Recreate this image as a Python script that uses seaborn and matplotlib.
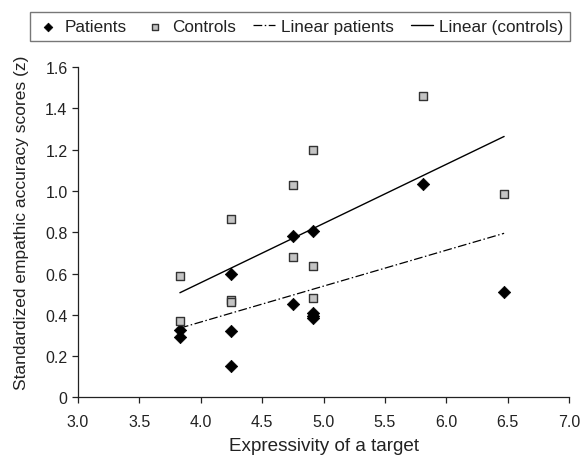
import numpy as np
import pandas as pd
import seaborn as sns
import matplotlib.pyplot as plt

# values
patients_x = [3.83, 3.83, 4.25, 4.25, 4.25, 4.75, 4.75, 4.91, 4.91, 4.91, 4.91, 5.81, 6.47]
patients_y = [0.325, 0.29, 0.60, 0.32, 0.15, 0.78, 0.45, 0.805, 0.41, 0.395, 0.385, 1.035, 0.51]
controls_x = [3.83, 3.83, 4.25, 4.25, 4.25, 4.75, 4.75, 4.91, 4.91, 4.91, 5.81, 6.47]
controls_y = [0.59, 0.37, 0.865, 0.47, 0.46, 1.03, 0.68, 1.20, 0.635, 0.48, 1.46, 0.985]

df_pat = pd.DataFrame({'x': patients_x, 'y': patients_y})
df_con = pd.DataFrame({'x': controls_x, 'y': controls_y})

sns.set_style('ticks')
plt.rcParams['font.family'] = ['Liberation Sans', 'DejaVu Sans']

fig = plt.figure(figsize=(5.82, 4.60), dpi=100)
ax = fig.add_axes([0.134, 0.134, 0.844, 0.718])

# regression lines over the data range
sns.regplot(data=df_pat, x='x', y='y', ax=ax, scatter=False, ci=None, truncate=True,
            line_kws={'color': 'black', 'lw': 0.9, 'dashes': (7, 2, 1.2, 2)})
line_pat = ax.lines[-1]
sns.regplot(data=df_con, x='x', y='y', ax=ax, scatter=False, ci=None, truncate=True,
            line_kws={'color': 'black', 'lw': 1.0})
line_con = ax.lines[-1]

sns.scatterplot(data=df_pat, x='x', y='y', ax=ax, marker='D', s=40, color='black',
                edgecolor='black', linewidth=0.5, zorder=3)
pts_pat = ax.collections[-1]
sns.scatterplot(data=df_con, x='x', y='y', ax=ax, marker='s', s=38, color='#c4c4c4',
                edgecolor='#333333', linewidth=1.0, zorder=3)
pts_con = ax.collections[-1]

ax.set_xlim(3.0, 7.0)
ax.set_ylim(0, 1.6)
xt = np.arange(3.0, 7.01, 0.5)
ax.set_xticks(xt)
ax.set_xticklabels([f'{v:.1f}' for v in xt])
yt = np.arange(0, 1.61, 0.2)
ax.set_yticks(yt)
ax.set_yticklabels(['0'] + [f'{v:.1f}' for v in yt[1:]])
ax.tick_params(labelsize=11.5, length=4, width=0.9, color='#222222', labelcolor='#222222')
ax.tick_params(axis='x', pad=8)
for s in ['left', 'bottom']:
    ax.spines[s].set_linewidth(0.9)
    ax.spines[s].set_color('#222222')
sns.despine(ax=ax)

ax.set_xlabel('Expressivity of a target', fontsize=13.6, color='#222222', labelpad=6)
ax.set_ylabel('Standardized empathic accuracy scores (z)', fontsize=12.5, color='#222222')
ax.yaxis.set_label_coords(-0.10, 0.532)

leg = fig.legend([pts_pat, pts_con, line_pat, line_con],
                 ['Patients', 'Controls', 'Linear patients', 'Linear (controls)'],
                 loc='center', bbox_to_anchor=(0.5155, 0.94),
                 ncol=4, fontsize=12.3, frameon=True, fancybox=False, handlelength=1.3,
                 handletextpad=0.35, columnspacing=1.0, borderpad=0.4, markerscale=0.7)
leg.get_frame().set_edgecolor('#555555')
leg.get_frame().set_linewidth(1.0)
for t in leg.get_texts():
    t.set_color('#222222')

fig.savefig('out.png', dpi=100)
